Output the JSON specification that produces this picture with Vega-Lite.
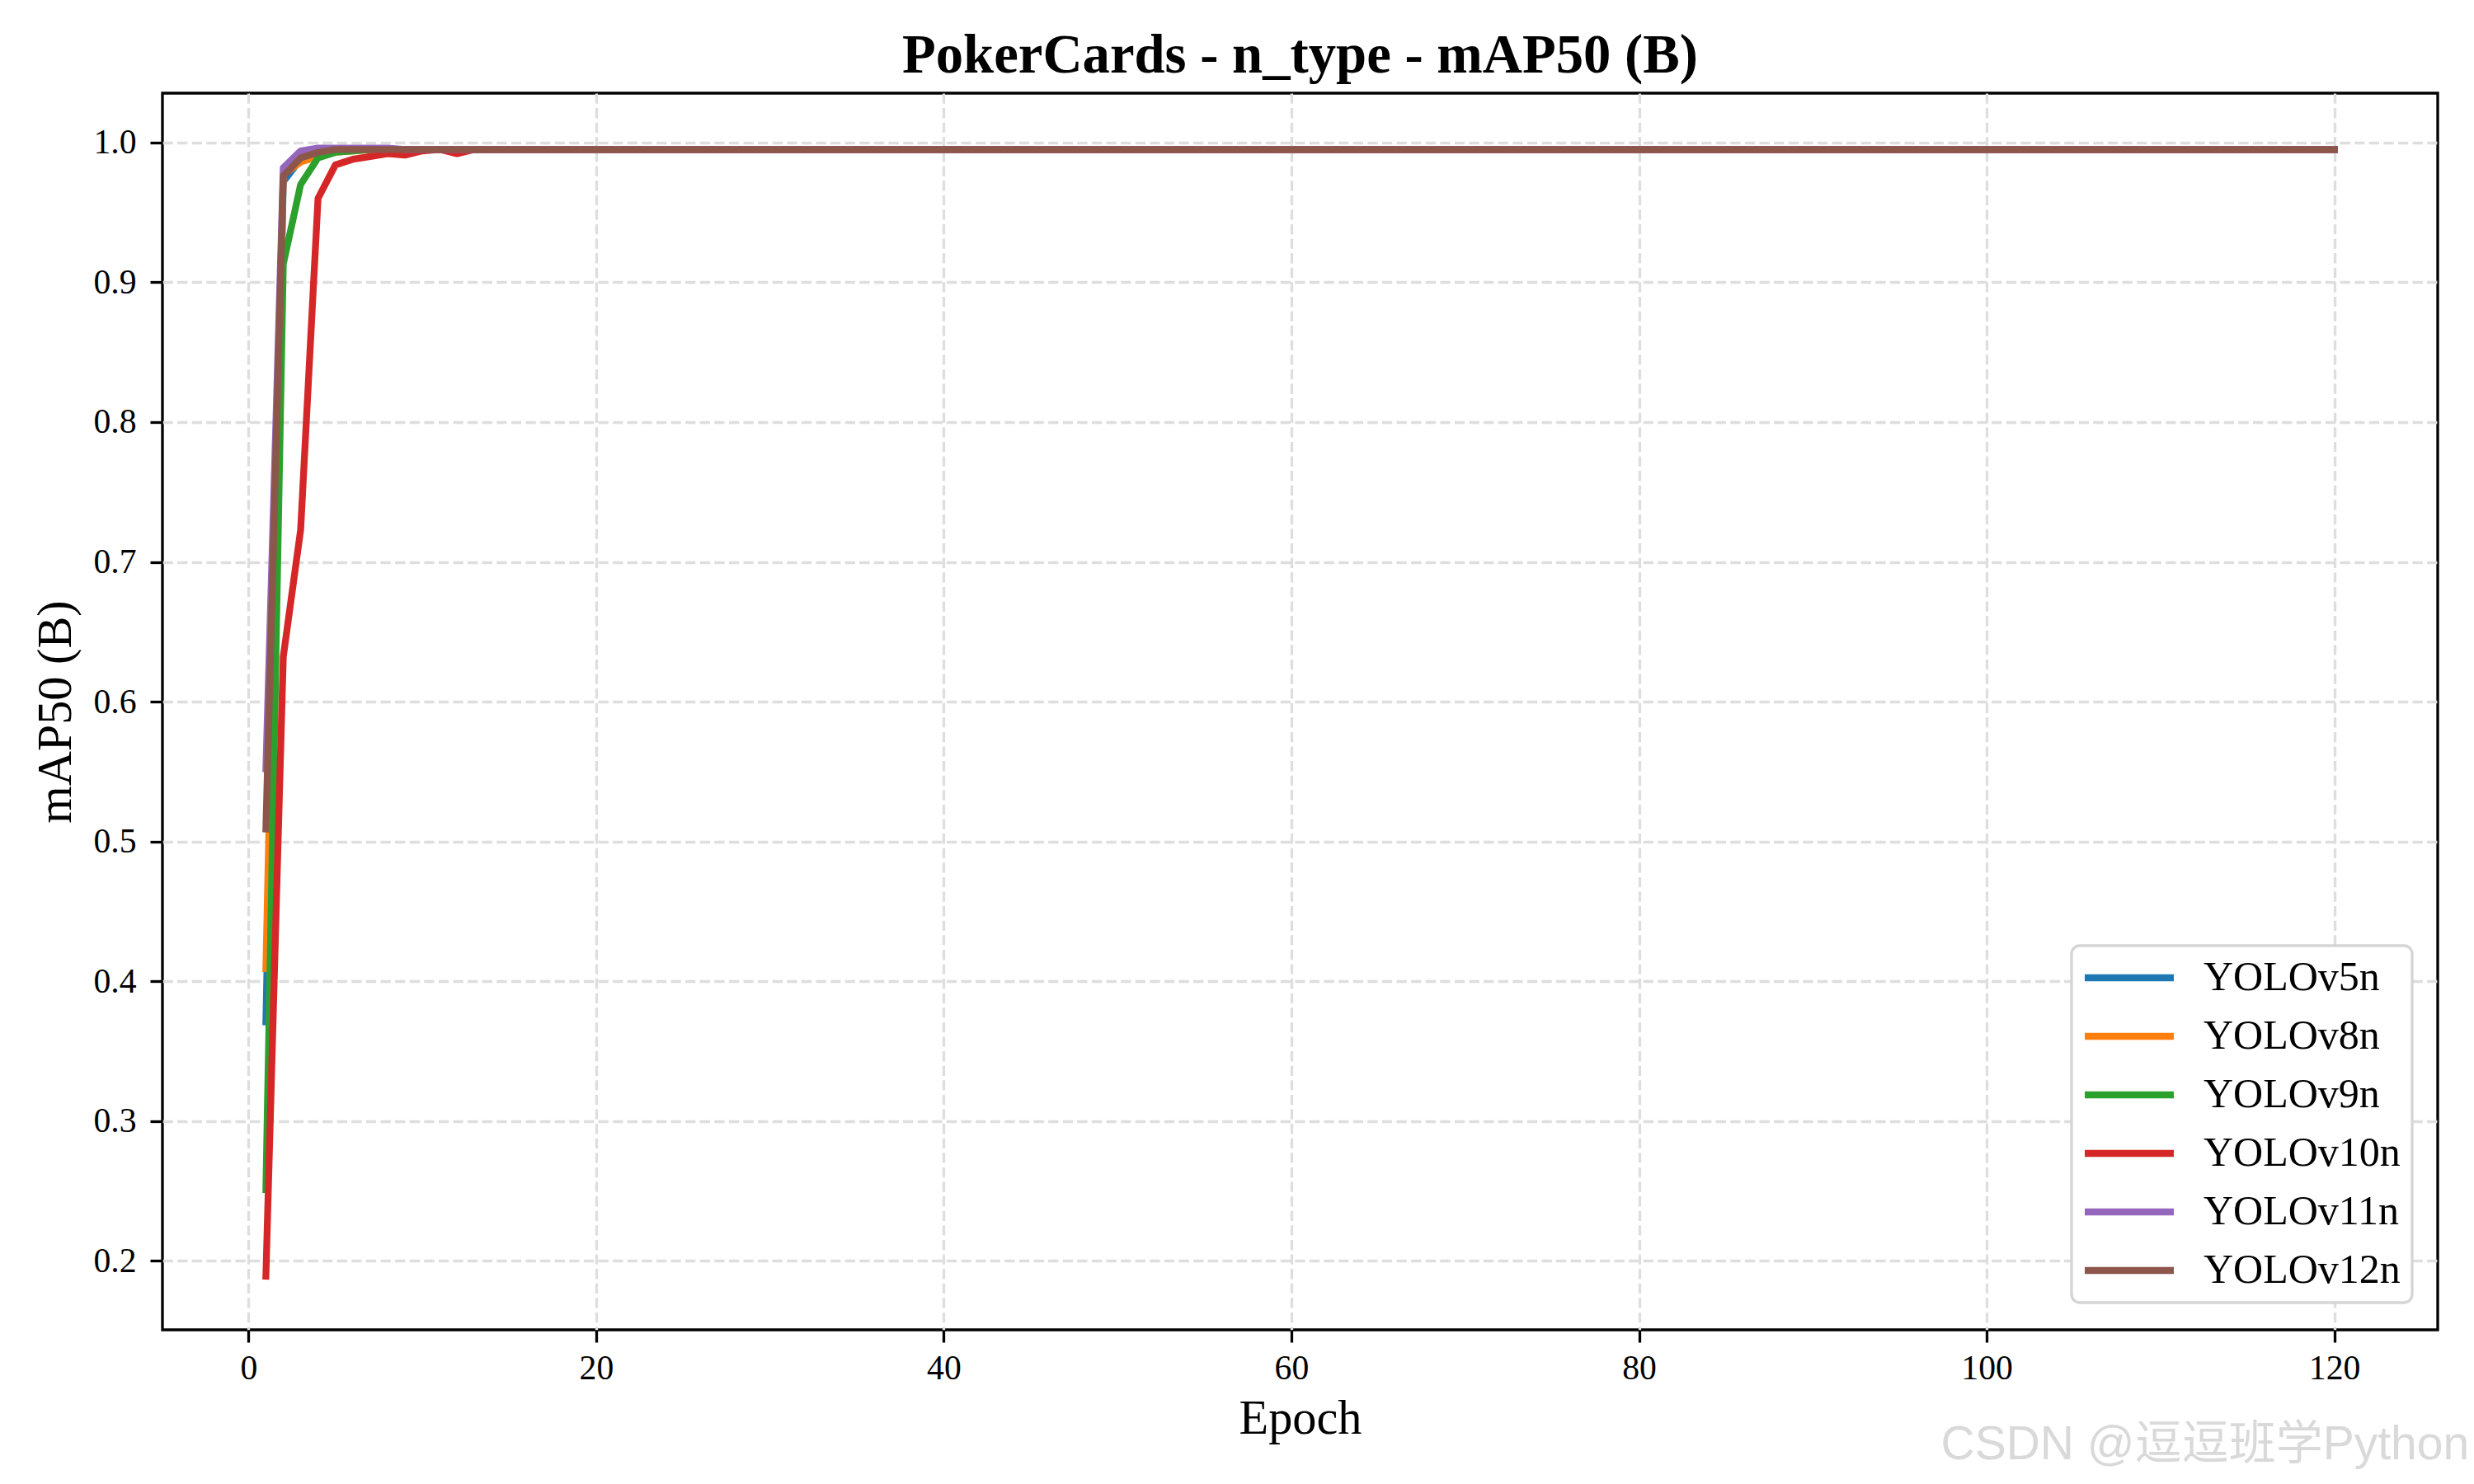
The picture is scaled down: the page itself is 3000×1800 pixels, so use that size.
{
  "$schema": "https://vega.github.io/schema/vega-lite/v6.json",
  "width": 2759,
  "height": 1500,
  "autosize": {"type": "none"},
  "padding": {"left": 197, "top": 113, "right": 44, "bottom": 187},
  "background": "white",
  "title": {"text": "PokerCards - n_type - mAP50 (B)", "font": "Liberation Serif", "fontSize": 66.7, "fontWeight": "bold", "color": "black", "anchor": "middle", "baseline": "alphabetic", "offset": 25, "dy": 67},
  "config": {
    "view": {"stroke": "black", "strokeWidth": 3.3},
    "axis": {"domain": false, "grid": true, "gridColor": "#dedede", "gridWidth": 3.3, "gridDash": [12.3, 5.3], "tickColor": "black", "tickWidth": 3.3, "tickSize": 15, "labelFont": "Liberation Serif", "labelFontSize": 41.7, "labelColor": "black", "titleFont": "Liberation Serif", "titleFontSize": 58.3, "titleFontWeight": "normal", "titleColor": "black", "labelFlush": false, "labelOverlap": false}
  },
  "data": {"values": [
    {"epoch": 1, "YOLOv5n": 0.371, "YOLOv8n": 0.409, "YOLOv9n": 0.251, "YOLOv10n": 0.189, "YOLOv11n": 0.552, "YOLOv12n": 0.509},
    {"epoch": 2, "YOLOv5n": 0.972, "YOLOv8n": 0.977, "YOLOv9n": 0.913, "YOLOv10n": 0.632, "YOLOv11n": 0.982, "YOLOv12n": 0.976},
    {"epoch": 3, "YOLOv5n": 0.988, "YOLOv8n": 0.986, "YOLOv9n": 0.970, "YOLOv10n": 0.723, "YOLOv11n": 0.994, "YOLOv12n": 0.989},
    {"epoch": 4, "YOLOv5n": 0.992, "YOLOv8n": 0.990, "YOLOv9n": 0.989, "YOLOv10n": 0.960, "YOLOv11n": 0.996, "YOLOv12n": 0.993},
    {"epoch": 5, "YOLOv5n": 0.994, "YOLOv8n": 0.993, "YOLOv9n": 0.993, "YOLOv10n": 0.984, "YOLOv11n": 0.996, "YOLOv12n": 0.995},
    {"epoch": 6, "YOLOv5n": 0.995, "YOLOv8n": 0.994, "YOLOv9n": 0.994, "YOLOv10n": 0.988, "YOLOv11n": 0.996, "YOLOv12n": 0.995},
    {"epoch": 7, "YOLOv5n": 0.995, "YOLOv8n": 0.995, "YOLOv9n": 0.995, "YOLOv10n": 0.990, "YOLOv11n": 0.996, "YOLOv12n": 0.995},
    {"epoch": 8, "YOLOv5n": 0.995, "YOLOv8n": 0.995, "YOLOv9n": 0.995, "YOLOv10n": 0.992, "YOLOv11n": 0.996, "YOLOv12n": 0.995},
    {"epoch": 9, "YOLOv5n": 0.995, "YOLOv8n": 0.995, "YOLOv9n": 0.995, "YOLOv10n": 0.991, "YOLOv11n": 0.995, "YOLOv12n": 0.995},
    {"epoch": 10, "YOLOv5n": 0.995, "YOLOv8n": 0.995, "YOLOv9n": 0.995, "YOLOv10n": 0.994, "YOLOv11n": 0.995, "YOLOv12n": 0.995},
    {"epoch": 11, "YOLOv5n": 0.995, "YOLOv8n": 0.995, "YOLOv9n": 0.995, "YOLOv10n": 0.995, "YOLOv11n": 0.995, "YOLOv12n": 0.995},
    {"epoch": 12, "YOLOv5n": 0.995, "YOLOv8n": 0.995, "YOLOv9n": 0.995, "YOLOv10n": 0.992, "YOLOv11n": 0.995, "YOLOv12n": 0.995},
    {"epoch": 13, "YOLOv5n": 0.995, "YOLOv8n": 0.995, "YOLOv9n": 0.995, "YOLOv10n": 0.995, "YOLOv11n": 0.995, "YOLOv12n": 0.995},
    {"epoch": 14, "YOLOv5n": 0.995, "YOLOv8n": 0.995, "YOLOv9n": 0.995, "YOLOv10n": 0.995, "YOLOv11n": 0.995, "YOLOv12n": 0.995},
    {"epoch": 15, "YOLOv5n": 0.995, "YOLOv8n": 0.995, "YOLOv9n": 0.995, "YOLOv10n": 0.995, "YOLOv11n": 0.995, "YOLOv12n": 0.995},
    {"epoch": 16, "YOLOv5n": 0.995, "YOLOv8n": 0.995, "YOLOv9n": 0.995, "YOLOv10n": 0.995, "YOLOv11n": 0.995, "YOLOv12n": 0.995},
    {"epoch": 17, "YOLOv5n": 0.995, "YOLOv8n": 0.995, "YOLOv9n": 0.995, "YOLOv10n": 0.995, "YOLOv11n": 0.995, "YOLOv12n": 0.995},
    {"epoch": 18, "YOLOv5n": 0.995, "YOLOv8n": 0.995, "YOLOv9n": 0.995, "YOLOv10n": 0.995, "YOLOv11n": 0.995, "YOLOv12n": 0.995},
    {"epoch": 19, "YOLOv5n": 0.995, "YOLOv8n": 0.995, "YOLOv9n": 0.995, "YOLOv10n": 0.995, "YOLOv11n": 0.995, "YOLOv12n": 0.995},
    {"epoch": 20, "YOLOv5n": 0.995, "YOLOv8n": 0.995, "YOLOv9n": 0.995, "YOLOv10n": 0.995, "YOLOv11n": 0.995, "YOLOv12n": 0.995},
    {"epoch": 21, "YOLOv5n": 0.995, "YOLOv8n": 0.995, "YOLOv9n": 0.995, "YOLOv10n": 0.995, "YOLOv11n": 0.995, "YOLOv12n": 0.995},
    {"epoch": 22, "YOLOv5n": 0.995, "YOLOv8n": 0.995, "YOLOv9n": 0.995, "YOLOv10n": 0.995, "YOLOv11n": 0.995, "YOLOv12n": 0.995},
    {"epoch": 23, "YOLOv5n": 0.995, "YOLOv8n": 0.995, "YOLOv9n": 0.995, "YOLOv10n": 0.995, "YOLOv11n": 0.995, "YOLOv12n": 0.995},
    {"epoch": 24, "YOLOv5n": 0.995, "YOLOv8n": 0.995, "YOLOv9n": 0.995, "YOLOv10n": 0.995, "YOLOv11n": 0.995, "YOLOv12n": 0.995},
    {"epoch": 25, "YOLOv5n": 0.995, "YOLOv8n": 0.995, "YOLOv9n": 0.995, "YOLOv10n": 0.995, "YOLOv11n": 0.995, "YOLOv12n": 0.995},
    {"epoch": 26, "YOLOv5n": 0.995, "YOLOv8n": 0.995, "YOLOv9n": 0.995, "YOLOv10n": 0.995, "YOLOv11n": 0.995, "YOLOv12n": 0.995},
    {"epoch": 27, "YOLOv5n": 0.995, "YOLOv8n": 0.995, "YOLOv9n": 0.995, "YOLOv10n": 0.995, "YOLOv11n": 0.995, "YOLOv12n": 0.995},
    {"epoch": 28, "YOLOv5n": 0.995, "YOLOv8n": 0.995, "YOLOv9n": 0.995, "YOLOv10n": 0.995, "YOLOv11n": 0.995, "YOLOv12n": 0.995},
    {"epoch": 29, "YOLOv5n": 0.995, "YOLOv8n": 0.995, "YOLOv9n": 0.995, "YOLOv10n": 0.995, "YOLOv11n": 0.995, "YOLOv12n": 0.995},
    {"epoch": 30, "YOLOv5n": 0.995, "YOLOv8n": 0.995, "YOLOv9n": 0.995, "YOLOv10n": 0.995, "YOLOv11n": 0.995, "YOLOv12n": 0.995},
    {"epoch": 31, "YOLOv5n": 0.995, "YOLOv8n": 0.995, "YOLOv9n": 0.995, "YOLOv10n": 0.995, "YOLOv11n": 0.995, "YOLOv12n": 0.995},
    {"epoch": 32, "YOLOv5n": 0.995, "YOLOv8n": 0.995, "YOLOv9n": 0.995, "YOLOv10n": 0.995, "YOLOv11n": 0.995, "YOLOv12n": 0.995},
    {"epoch": 33, "YOLOv5n": 0.995, "YOLOv8n": 0.995, "YOLOv9n": 0.995, "YOLOv10n": 0.995, "YOLOv11n": 0.995, "YOLOv12n": 0.995},
    {"epoch": 34, "YOLOv5n": 0.995, "YOLOv8n": 0.995, "YOLOv9n": 0.995, "YOLOv10n": 0.995, "YOLOv11n": 0.995, "YOLOv12n": 0.995},
    {"epoch": 35, "YOLOv5n": 0.995, "YOLOv8n": 0.995, "YOLOv9n": 0.995, "YOLOv10n": 0.995, "YOLOv11n": 0.995, "YOLOv12n": 0.995},
    {"epoch": 36, "YOLOv5n": 0.995, "YOLOv8n": 0.995, "YOLOv9n": 0.995, "YOLOv10n": 0.995, "YOLOv11n": 0.995, "YOLOv12n": 0.995},
    {"epoch": 37, "YOLOv5n": 0.995, "YOLOv8n": 0.995, "YOLOv9n": 0.995, "YOLOv10n": 0.995, "YOLOv11n": 0.995, "YOLOv12n": 0.995},
    {"epoch": 38, "YOLOv5n": 0.995, "YOLOv8n": 0.995, "YOLOv9n": 0.995, "YOLOv10n": 0.995, "YOLOv11n": 0.995, "YOLOv12n": 0.995},
    {"epoch": 39, "YOLOv5n": 0.995, "YOLOv8n": 0.995, "YOLOv9n": 0.995, "YOLOv10n": 0.995, "YOLOv11n": 0.995, "YOLOv12n": 0.995},
    {"epoch": 40, "YOLOv5n": 0.995, "YOLOv8n": 0.995, "YOLOv9n": 0.995, "YOLOv10n": 0.995, "YOLOv11n": 0.995, "YOLOv12n": 0.995},
    {"epoch": 41, "YOLOv5n": 0.995, "YOLOv8n": 0.995, "YOLOv9n": 0.995, "YOLOv10n": 0.995, "YOLOv11n": 0.995, "YOLOv12n": 0.995},
    {"epoch": 42, "YOLOv5n": 0.995, "YOLOv8n": 0.995, "YOLOv9n": 0.995, "YOLOv10n": 0.995, "YOLOv11n": 0.995, "YOLOv12n": 0.995},
    {"epoch": 43, "YOLOv5n": 0.995, "YOLOv8n": 0.995, "YOLOv9n": 0.995, "YOLOv10n": 0.995, "YOLOv11n": 0.995, "YOLOv12n": 0.995},
    {"epoch": 44, "YOLOv5n": 0.995, "YOLOv8n": 0.995, "YOLOv9n": 0.995, "YOLOv10n": 0.995, "YOLOv11n": 0.995, "YOLOv12n": 0.995},
    {"epoch": 45, "YOLOv5n": 0.995, "YOLOv8n": 0.995, "YOLOv9n": 0.995, "YOLOv10n": 0.995, "YOLOv11n": 0.995, "YOLOv12n": 0.995},
    {"epoch": 46, "YOLOv5n": 0.995, "YOLOv8n": 0.995, "YOLOv9n": 0.995, "YOLOv10n": 0.995, "YOLOv11n": 0.995, "YOLOv12n": 0.995},
    {"epoch": 47, "YOLOv5n": 0.995, "YOLOv8n": 0.995, "YOLOv9n": 0.995, "YOLOv10n": 0.995, "YOLOv11n": 0.995, "YOLOv12n": 0.995},
    {"epoch": 48, "YOLOv5n": 0.995, "YOLOv8n": 0.995, "YOLOv9n": 0.995, "YOLOv10n": 0.995, "YOLOv11n": 0.995, "YOLOv12n": 0.995},
    {"epoch": 49, "YOLOv5n": 0.995, "YOLOv8n": 0.995, "YOLOv9n": 0.995, "YOLOv10n": 0.995, "YOLOv11n": 0.995, "YOLOv12n": 0.995},
    {"epoch": 50, "YOLOv5n": 0.995, "YOLOv8n": 0.995, "YOLOv9n": 0.995, "YOLOv10n": 0.995, "YOLOv11n": 0.995, "YOLOv12n": 0.995},
    {"epoch": 51, "YOLOv5n": 0.995, "YOLOv8n": 0.995, "YOLOv9n": 0.995, "YOLOv10n": 0.995, "YOLOv11n": 0.995, "YOLOv12n": 0.995},
    {"epoch": 52, "YOLOv5n": 0.995, "YOLOv8n": 0.995, "YOLOv9n": 0.995, "YOLOv10n": 0.995, "YOLOv11n": 0.995, "YOLOv12n": 0.995},
    {"epoch": 53, "YOLOv5n": 0.995, "YOLOv8n": 0.995, "YOLOv9n": 0.995, "YOLOv10n": 0.995, "YOLOv11n": 0.995, "YOLOv12n": 0.995},
    {"epoch": 54, "YOLOv5n": 0.995, "YOLOv8n": 0.995, "YOLOv9n": 0.995, "YOLOv10n": 0.995, "YOLOv11n": 0.995, "YOLOv12n": 0.995},
    {"epoch": 55, "YOLOv5n": 0.995, "YOLOv8n": 0.995, "YOLOv9n": 0.995, "YOLOv10n": 0.995, "YOLOv11n": 0.995, "YOLOv12n": 0.995},
    {"epoch": 56, "YOLOv5n": 0.995, "YOLOv8n": 0.995, "YOLOv9n": 0.995, "YOLOv10n": 0.995, "YOLOv11n": 0.995, "YOLOv12n": 0.995},
    {"epoch": 57, "YOLOv5n": 0.995, "YOLOv8n": 0.995, "YOLOv9n": 0.995, "YOLOv10n": 0.995, "YOLOv11n": 0.995, "YOLOv12n": 0.995},
    {"epoch": 58, "YOLOv5n": 0.995, "YOLOv8n": 0.995, "YOLOv9n": 0.995, "YOLOv10n": 0.995, "YOLOv11n": 0.995, "YOLOv12n": 0.995},
    {"epoch": 59, "YOLOv5n": 0.995, "YOLOv8n": 0.995, "YOLOv9n": 0.995, "YOLOv10n": 0.995, "YOLOv11n": 0.995, "YOLOv12n": 0.995},
    {"epoch": 60, "YOLOv5n": 0.995, "YOLOv8n": 0.995, "YOLOv9n": 0.995, "YOLOv10n": 0.995, "YOLOv11n": 0.995, "YOLOv12n": 0.995},
    {"epoch": 61, "YOLOv5n": 0.995, "YOLOv8n": 0.995, "YOLOv9n": 0.995, "YOLOv10n": 0.995, "YOLOv11n": 0.995, "YOLOv12n": 0.995},
    {"epoch": 62, "YOLOv5n": 0.995, "YOLOv8n": 0.995, "YOLOv9n": 0.995, "YOLOv10n": 0.995, "YOLOv11n": 0.995, "YOLOv12n": 0.995},
    {"epoch": 63, "YOLOv5n": 0.995, "YOLOv8n": 0.995, "YOLOv9n": 0.995, "YOLOv10n": 0.995, "YOLOv11n": 0.995, "YOLOv12n": 0.995},
    {"epoch": 64, "YOLOv5n": 0.995, "YOLOv8n": 0.995, "YOLOv9n": 0.995, "YOLOv10n": 0.995, "YOLOv11n": 0.995, "YOLOv12n": 0.995},
    {"epoch": 65, "YOLOv5n": 0.995, "YOLOv8n": 0.995, "YOLOv9n": 0.995, "YOLOv10n": 0.995, "YOLOv11n": 0.995, "YOLOv12n": 0.995},
    {"epoch": 66, "YOLOv5n": 0.995, "YOLOv8n": 0.995, "YOLOv9n": 0.995, "YOLOv10n": 0.995, "YOLOv11n": 0.995, "YOLOv12n": 0.995},
    {"epoch": 67, "YOLOv5n": 0.995, "YOLOv8n": 0.995, "YOLOv9n": 0.995, "YOLOv10n": 0.995, "YOLOv11n": 0.995, "YOLOv12n": 0.995},
    {"epoch": 68, "YOLOv5n": 0.995, "YOLOv8n": 0.995, "YOLOv9n": 0.995, "YOLOv10n": 0.995, "YOLOv11n": 0.995, "YOLOv12n": 0.995},
    {"epoch": 69, "YOLOv5n": 0.995, "YOLOv8n": 0.995, "YOLOv9n": 0.995, "YOLOv10n": 0.995, "YOLOv11n": 0.995, "YOLOv12n": 0.995},
    {"epoch": 70, "YOLOv5n": 0.995, "YOLOv8n": 0.995, "YOLOv9n": 0.995, "YOLOv10n": 0.995, "YOLOv11n": 0.995, "YOLOv12n": 0.995},
    {"epoch": 71, "YOLOv5n": 0.995, "YOLOv8n": 0.995, "YOLOv9n": 0.995, "YOLOv10n": 0.995, "YOLOv11n": 0.995, "YOLOv12n": 0.995},
    {"epoch": 72, "YOLOv5n": 0.995, "YOLOv8n": 0.995, "YOLOv9n": 0.995, "YOLOv10n": 0.995, "YOLOv11n": 0.995, "YOLOv12n": 0.995},
    {"epoch": 73, "YOLOv5n": 0.995, "YOLOv8n": 0.995, "YOLOv9n": 0.995, "YOLOv10n": 0.995, "YOLOv11n": 0.995, "YOLOv12n": 0.995},
    {"epoch": 74, "YOLOv5n": 0.995, "YOLOv8n": 0.995, "YOLOv9n": 0.995, "YOLOv10n": 0.995, "YOLOv11n": 0.995, "YOLOv12n": 0.995},
    {"epoch": 75, "YOLOv5n": 0.995, "YOLOv8n": 0.995, "YOLOv9n": 0.995, "YOLOv10n": 0.995, "YOLOv11n": 0.995, "YOLOv12n": 0.995},
    {"epoch": 76, "YOLOv5n": 0.995, "YOLOv8n": 0.995, "YOLOv9n": 0.995, "YOLOv10n": 0.995, "YOLOv11n": 0.995, "YOLOv12n": 0.995},
    {"epoch": 77, "YOLOv5n": 0.995, "YOLOv8n": 0.995, "YOLOv9n": 0.995, "YOLOv10n": 0.995, "YOLOv11n": 0.995, "YOLOv12n": 0.995},
    {"epoch": 78, "YOLOv5n": 0.995, "YOLOv8n": 0.995, "YOLOv9n": 0.995, "YOLOv10n": 0.995, "YOLOv11n": 0.995, "YOLOv12n": 0.995},
    {"epoch": 79, "YOLOv5n": 0.995, "YOLOv8n": 0.995, "YOLOv9n": 0.995, "YOLOv10n": 0.995, "YOLOv11n": 0.995, "YOLOv12n": 0.995},
    {"epoch": 80, "YOLOv5n": 0.995, "YOLOv8n": 0.995, "YOLOv9n": 0.995, "YOLOv10n": 0.995, "YOLOv11n": 0.995, "YOLOv12n": 0.995},
    {"epoch": 81, "YOLOv5n": 0.995, "YOLOv8n": 0.995, "YOLOv9n": 0.995, "YOLOv10n": 0.995, "YOLOv11n": 0.995, "YOLOv12n": 0.995},
    {"epoch": 82, "YOLOv5n": 0.995, "YOLOv8n": 0.995, "YOLOv9n": 0.995, "YOLOv10n": 0.995, "YOLOv11n": 0.995, "YOLOv12n": 0.995},
    {"epoch": 83, "YOLOv5n": 0.995, "YOLOv8n": 0.995, "YOLOv9n": 0.995, "YOLOv10n": 0.995, "YOLOv11n": 0.995, "YOLOv12n": 0.995},
    {"epoch": 84, "YOLOv5n": 0.995, "YOLOv8n": 0.995, "YOLOv9n": 0.995, "YOLOv10n": 0.995, "YOLOv11n": 0.995, "YOLOv12n": 0.995},
    {"epoch": 85, "YOLOv5n": 0.995, "YOLOv8n": 0.995, "YOLOv9n": 0.995, "YOLOv10n": 0.995, "YOLOv11n": 0.995, "YOLOv12n": 0.995},
    {"epoch": 86, "YOLOv5n": 0.995, "YOLOv8n": 0.995, "YOLOv9n": 0.995, "YOLOv10n": 0.995, "YOLOv11n": 0.995, "YOLOv12n": 0.995},
    {"epoch": 87, "YOLOv5n": 0.995, "YOLOv8n": 0.995, "YOLOv9n": 0.995, "YOLOv10n": 0.995, "YOLOv11n": 0.995, "YOLOv12n": 0.995},
    {"epoch": 88, "YOLOv5n": 0.995, "YOLOv8n": 0.995, "YOLOv9n": 0.995, "YOLOv10n": 0.995, "YOLOv11n": 0.995, "YOLOv12n": 0.995},
    {"epoch": 89, "YOLOv5n": 0.995, "YOLOv8n": 0.995, "YOLOv9n": 0.995, "YOLOv10n": 0.995, "YOLOv11n": 0.995, "YOLOv12n": 0.995},
    {"epoch": 90, "YOLOv5n": 0.995, "YOLOv8n": 0.995, "YOLOv9n": 0.995, "YOLOv10n": 0.995, "YOLOv11n": 0.995, "YOLOv12n": 0.995},
    {"epoch": 91, "YOLOv5n": 0.995, "YOLOv8n": 0.995, "YOLOv9n": 0.995, "YOLOv10n": 0.995, "YOLOv11n": 0.995, "YOLOv12n": 0.995},
    {"epoch": 92, "YOLOv5n": 0.995, "YOLOv8n": 0.995, "YOLOv9n": 0.995, "YOLOv10n": 0.995, "YOLOv11n": 0.995, "YOLOv12n": 0.995},
    {"epoch": 93, "YOLOv5n": 0.995, "YOLOv8n": 0.995, "YOLOv9n": 0.995, "YOLOv10n": 0.995, "YOLOv11n": 0.995, "YOLOv12n": 0.995},
    {"epoch": 94, "YOLOv5n": 0.995, "YOLOv8n": 0.995, "YOLOv9n": 0.995, "YOLOv10n": 0.995, "YOLOv11n": 0.995, "YOLOv12n": 0.995},
    {"epoch": 95, "YOLOv5n": 0.995, "YOLOv8n": 0.995, "YOLOv9n": 0.995, "YOLOv10n": 0.995, "YOLOv11n": 0.995, "YOLOv12n": 0.995},
    {"epoch": 96, "YOLOv5n": 0.995, "YOLOv8n": 0.995, "YOLOv9n": 0.995, "YOLOv10n": 0.995, "YOLOv11n": 0.995, "YOLOv12n": 0.995},
    {"epoch": 97, "YOLOv5n": 0.995, "YOLOv8n": 0.995, "YOLOv9n": 0.995, "YOLOv10n": 0.995, "YOLOv11n": 0.995, "YOLOv12n": 0.995},
    {"epoch": 98, "YOLOv5n": 0.995, "YOLOv8n": 0.995, "YOLOv9n": 0.995, "YOLOv10n": 0.995, "YOLOv11n": 0.995, "YOLOv12n": 0.995},
    {"epoch": 99, "YOLOv5n": 0.995, "YOLOv8n": 0.995, "YOLOv9n": 0.995, "YOLOv10n": 0.995, "YOLOv11n": 0.995, "YOLOv12n": 0.995},
    {"epoch": 100, "YOLOv5n": 0.995, "YOLOv8n": 0.995, "YOLOv9n": 0.995, "YOLOv10n": 0.995, "YOLOv11n": 0.995, "YOLOv12n": 0.995},
    {"epoch": 101, "YOLOv5n": 0.995, "YOLOv8n": 0.995, "YOLOv9n": 0.995, "YOLOv10n": 0.995, "YOLOv11n": 0.995, "YOLOv12n": 0.995},
    {"epoch": 102, "YOLOv5n": 0.995, "YOLOv8n": 0.995, "YOLOv9n": 0.995, "YOLOv10n": 0.995, "YOLOv11n": 0.995, "YOLOv12n": 0.995},
    {"epoch": 103, "YOLOv5n": 0.995, "YOLOv8n": 0.995, "YOLOv9n": 0.995, "YOLOv10n": 0.995, "YOLOv11n": 0.995, "YOLOv12n": 0.995},
    {"epoch": 104, "YOLOv5n": 0.995, "YOLOv8n": 0.995, "YOLOv9n": 0.995, "YOLOv10n": 0.995, "YOLOv11n": 0.995, "YOLOv12n": 0.995},
    {"epoch": 105, "YOLOv5n": 0.995, "YOLOv8n": 0.995, "YOLOv9n": 0.995, "YOLOv10n": 0.995, "YOLOv11n": 0.995, "YOLOv12n": 0.995},
    {"epoch": 106, "YOLOv5n": 0.995, "YOLOv8n": 0.995, "YOLOv9n": 0.995, "YOLOv10n": 0.995, "YOLOv11n": 0.995, "YOLOv12n": 0.995},
    {"epoch": 107, "YOLOv5n": 0.995, "YOLOv8n": 0.995, "YOLOv9n": 0.995, "YOLOv10n": 0.995, "YOLOv11n": 0.995, "YOLOv12n": 0.995},
    {"epoch": 108, "YOLOv5n": 0.995, "YOLOv8n": 0.995, "YOLOv9n": 0.995, "YOLOv10n": 0.995, "YOLOv11n": 0.995, "YOLOv12n": 0.995},
    {"epoch": 109, "YOLOv5n": 0.995, "YOLOv8n": 0.995, "YOLOv9n": 0.995, "YOLOv10n": 0.995, "YOLOv11n": 0.995, "YOLOv12n": 0.995},
    {"epoch": 110, "YOLOv5n": 0.995, "YOLOv8n": 0.995, "YOLOv9n": 0.995, "YOLOv10n": 0.995, "YOLOv11n": 0.995, "YOLOv12n": 0.995},
    {"epoch": 111, "YOLOv5n": 0.995, "YOLOv8n": 0.995, "YOLOv9n": 0.995, "YOLOv10n": 0.995, "YOLOv11n": 0.995, "YOLOv12n": 0.995},
    {"epoch": 112, "YOLOv5n": 0.995, "YOLOv8n": 0.995, "YOLOv9n": 0.995, "YOLOv10n": 0.995, "YOLOv11n": 0.995, "YOLOv12n": 0.995},
    {"epoch": 113, "YOLOv5n": 0.995, "YOLOv8n": 0.995, "YOLOv9n": 0.995, "YOLOv10n": 0.995, "YOLOv11n": 0.995, "YOLOv12n": 0.995},
    {"epoch": 114, "YOLOv5n": 0.995, "YOLOv8n": 0.995, "YOLOv9n": 0.995, "YOLOv10n": 0.995, "YOLOv11n": 0.995, "YOLOv12n": 0.995},
    {"epoch": 115, "YOLOv5n": 0.995, "YOLOv8n": 0.995, "YOLOv9n": 0.995, "YOLOv10n": 0.995, "YOLOv11n": 0.995, "YOLOv12n": 0.995},
    {"epoch": 116, "YOLOv5n": 0.995, "YOLOv8n": 0.995, "YOLOv9n": 0.995, "YOLOv10n": 0.995, "YOLOv11n": 0.995, "YOLOv12n": 0.995},
    {"epoch": 117, "YOLOv5n": 0.995, "YOLOv8n": 0.995, "YOLOv9n": 0.995, "YOLOv10n": 0.995, "YOLOv11n": 0.995, "YOLOv12n": 0.995},
    {"epoch": 118, "YOLOv5n": 0.995, "YOLOv8n": 0.995, "YOLOv9n": 0.995, "YOLOv10n": 0.995, "YOLOv11n": 0.995, "YOLOv12n": 0.995},
    {"epoch": 119, "YOLOv5n": 0.995, "YOLOv8n": 0.995, "YOLOv9n": 0.995, "YOLOv10n": 0.995, "YOLOv11n": 0.995, "YOLOv12n": 0.995},
    {"epoch": 120, "YOLOv5n": 0.995, "YOLOv8n": 0.995, "YOLOv9n": 0.995, "YOLOv10n": 0.995, "YOLOv11n": 0.995, "YOLOv12n": 0.995}
  ]},
  "layer": [
    {
      "transform": [{"fold": ["YOLOv5n", "YOLOv8n", "YOLOv9n", "YOLOv10n", "YOLOv11n", "YOLOv12n"], "as": ["model", "map"]}],
      "mark": {"type": "line", "strokeWidth": 8.3, "strokeCap": "square", "strokeJoin": "round"},
      "encoding": {
        "x": {"field": "epoch", "type": "quantitative", "scale": {"domain": [-4.95, 125.95], "nice": false, "zero": false},
          "axis": {"values": [0, 20, 40, 60, 80, 100, 120], "title": "Epoch", "labelBaseline": "alphabetic", "labelPadding": 44, "titleX": 1379.5, "titleY": 125, "titleBaseline": "alphabetic", "titleAlign": "center"}},
        "y": {"field": "map", "type": "quantitative", "scale": {"domain": [0.1507, 1.0353], "nice": false, "zero": false},
          "axis": {"values": [0.2, 0.3, 0.4, 0.5, 0.6, 0.7, 0.8, 0.9, 1.0], "format": ".1f", "title": "mAP50 (B)", "labelPadding": 17, "labelBaseline": "middle", "titleX": -112, "titleY": 750, "titleAngle": -90, "titleBaseline": "alphabetic", "titleAlign": "center"}},
        "color": {"field": "model", "type": "nominal", "sort": ["YOLOv5n", "YOLOv8n", "YOLOv9n", "YOLOv10n", "YOLOv11n", "YOLOv12n"],
          "scale": {"domain": ["YOLOv5n", "YOLOv8n", "YOLOv9n", "YOLOv10n", "YOLOv11n", "YOLOv12n"], "range": ["#1f77b4", "#ff7f0e", "#2ca02c", "#d62728", "#9467bd", "#8c564b"]},
          "legend": {"title": null, "orient": "none", "legendX": 2315, "legendY": 1034, "symbolType": "M-4,0H4", "symbolSize": 729, "symbolOffset": 31, "symbolStrokeWidth": 8.3, "labelFont": "Liberation Serif", "labelFontSize": 50, "labelColor": "black", "labelOffset": 65, "labelLimit": 0, "padding": 14, "rowPadding": 21, "strokeColor": "#d5d5d5", "cornerRadius": 10, "fillColor": "white",
            "encode": {"legend": {"update": {"strokeWidth": {"value": 3.3}}}}}}
      }
    },
    {
      "data": {"values": [{"t": "CSDN @逗逗班学Python"}]},
      "mark": {"type": "text", "align": "right", "baseline": "alphabetic", "font": "Liberation Sans, Noto Sans CJK SC", "fontSize": 57, "color": "#d9d9d9"},
      "encoding": {"text": {"field": "t"}, "x": {"datum": 127.76, "type": "quantitative"}, "y": {"datum": 0.058, "type": "quantitative"}}
    }
  ]
}
